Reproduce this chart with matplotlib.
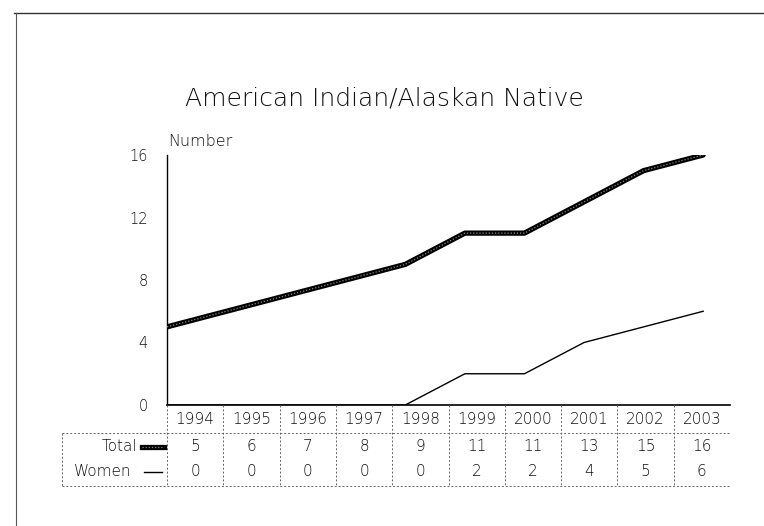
import matplotlib as mpl
mpl.use('Agg')
import matplotlib.pyplot as plt
from matplotlib.lines import Line2D

years = ['1994', '1995', '1996', '1997', '1998', '1999', '2000', '2001', '2002', '2003']
total = [5, 6, 7, 8, 9, 11, 11, 13, 15, 16]
women = [0, 0, 0, 0, 0, 2, 2, 4, 5, 6]
yticks = [0, 4, 8, 12, 16]
title = 'American Indian/Alaskan Native'

plt.rcParams['font.family'] = ['DejaVu Sans']
plt.rcParams['font.weight'] = 'light'
plt.rcParams['text.color'] = '#111111'

W, H = 764, 526
fig = plt.figure(figsize=(W / 100, H / 100), dpi=100)

def fx(px):
    return px / W

def fy(py):
    return 1 - py / H

# page border (scanned frame)
fig.add_artist(Line2D([fx(14), fx(764)], [fy(13), fy(13)], color='#333333', lw=1))
fig.add_artist(Line2D([fx(16), fx(16)], [fy(13), fy(526)], color='#555555', lw=0.8))

# main plot
x0, x1, ytop, ybot = 167, 730, 155, 405
ax = fig.add_axes([fx(x0), fy(ybot), fx(x1 - x0), (ybot - ytop) / H])
idx = list(range(len(years)))
ax.plot(idx, total, color='black', lw=3.8, solid_capstyle='round', solid_joinstyle='round', zorder=3)
ax.plot(idx, total, color='#8a8a8a', lw=0.9, ls=(0, (1, 1.5)), zorder=4)
ax.plot(idx, women, color='black', lw=1.0, zorder=3)
ax.set_xlim(0, 9.45)
ax.set_ylim(0, 16)
ax.set_yticks(yticks)
ax.set_xticks([])
ax.tick_params(axis='y', length=0, pad=14, labelsize=10.5, labelcolor='#111111')
for s in ['top', 'right']:
    ax.spines[s].set_visible(False)
ax.spines['left'].set_linewidth(1.0)
ax.spines['bottom'].set_linewidth(1.2)

fig.text(fx(168), fy(142), 'Number', fontsize=11.5, va='center', ha='left')
fig.text(fx(384), fy(99), title, fontsize=18, va='center', ha='center')

# data table below the axis
tx0 = 62
tax = fig.add_axes([fx(tx0), fy(487), fx(x1 - tx0), 82 / H])
tax.set_xlim(tx0, x1)
tax.set_ylim(487, 405)
tax.axis('off')
colw = (x1 - x0) / len(years)
row_y = [420, 447, 472]
fs = 11
dash = dict(color='#666666', lw=0.7, ls=(0, (2, 2)))
for i, yr in enumerate(years):
    cx = x0 + colw * (i + 0.5)
    tax.text(cx, row_y[0], yr, ha='center', va='center', fontsize=fs)
    tax.text(cx, row_y[1], str(total[i]), ha='center', va='center', fontsize=fs)
    tax.text(cx, row_y[2], str(women[i]), ha='center', va='center', fontsize=fs)
    if i > 0:
        bx = x0 + colw * i
        tax.plot([bx, bx], [405, 486], **dash)
tax.plot([x0, x0], [405, 486], **dash)
tax.plot([tx0, tx0], [433, 486], **dash)
tax.plot([tx0, x1], [433, 433], **dash)
tax.plot([tx0, x1], [486, 486], **dash)

# row labels with legend keys
tax.text(137, row_y[1], 'Total', ha='right', va='center', fontsize=fs)
tax.plot([142, 164], [row_y[1], row_y[1]], color='black', lw=3.8)
tax.plot([142, 164], [row_y[1], row_y[1]], color='#8a8a8a', lw=0.9, ls=(0, (1, 1.5)))
tax.text(132, row_y[2], 'Women', ha='right', va='center', fontsize=fs)
tax.plot([144, 162], [row_y[2], row_y[2]], color='black', lw=1.0)

fig.savefig('out.png', dpi=100)
